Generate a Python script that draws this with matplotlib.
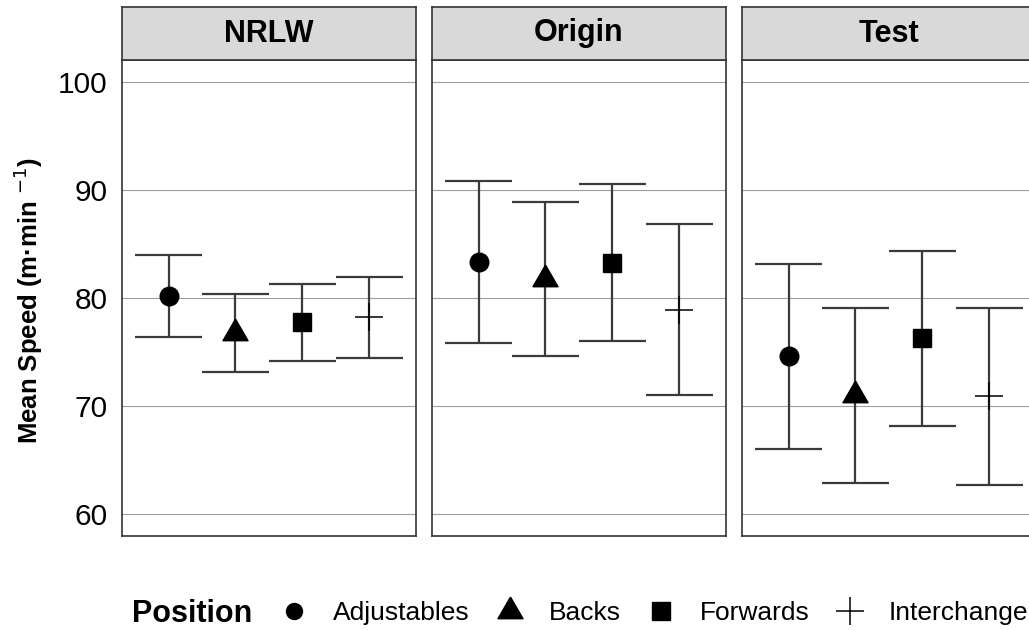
import matplotlib
matplotlib.use("Agg")
import matplotlib.pyplot as plt
from matplotlib.lines import Line2D

plt.rcParams["font.family"] = ["Liberation Sans", "DejaVu Sans"]

# ---- data -------------------------------------------------------------
competitions = ["NRLW", "Origin", "Test"]
positions = ["Adjustables", "Backs", "Forwards", "Interchange"]

nrlw_mean = [80.2, 76.8, 77.8, 78.2]
nrlw_lower = [76.4, 73.2, 74.2, 74.5]
nrlw_upper = [84.0, 80.4, 81.3, 81.9]

origin_mean = [83.3, 81.8, 83.2, 78.9]
origin_lower = [75.8, 74.6, 76.0, 71.0]
origin_upper = [90.8, 88.9, 90.5, 86.8]

test_mean = [74.6, 71.0, 76.3, 70.9]
test_lower = [66.0, 62.9, 68.2, 62.7]
test_upper = [83.1, 79.1, 84.3, 79.1]

y_ticks = [60, 70, 80, 90, 100]

panels = {
    "NRLW": (nrlw_mean, nrlw_lower, nrlw_upper),
    "Origin": (origin_mean, origin_lower, origin_upper),
    "Test": (test_mean, test_lower, test_upper),
}

# ---- styling ------------------------------------------------------------
tri = [(0.0, 1.555), (1.347, -0.778), (-1.347, -0.778), (0.0, 1.555)]
marker_style = {
    "Adjustables": dict(marker="o", markersize=13.4),
    "Backs": dict(marker=tri, markersize=20.8),
    "Forwards": dict(marker="s", markersize=13.4),
    "Interchange": dict(marker="+", markersize=20.0, markeredgewidth=1.1),
}
bar_color = "#3b3b3b"
border_color = "#333333"
grid_color = "#9e9e9e"

W, H = 1029, 630
fig = plt.figure(figsize=(W / 100, H / 100), dpi=100)

panel_left = [121.7, 431.7, 741.7]
panel_w = 294.3
panel_top, panel_bot = 60.0, 536.0
strip_top = 7.0


def fx(px):
    return px / W


def fy(py):
    return 1 - py / H


for k, comp in enumerate(competitions):
    mean, lower, upper = panels[comp]
    x0 = panel_left[k]
    ax = fig.add_axes([fx(x0), fy(panel_bot), panel_w / W, (panel_bot - panel_top) / H])
    ax.set_xlim(0.3, 4.7)
    ax.set_ylim(58, 102)
    ax.set_yticks(y_ticks)
    ax.yaxis.grid(True, color=grid_color, linewidth=0.8)
    ax.set_axisbelow(True)
    ax.set_xticks([])
    if k == 0:
        ax.tick_params(axis="y", length=0, pad=10, labelsize=21.5, labelcolor="black")
    else:
        ax.tick_params(axis="y", length=0, labelleft=False)
    for sp in ax.spines.values():
        sp.set_color(border_color)
        sp.set_linewidth(1.2)

    for i, pos in enumerate(positions):
        x = i + 1
        ax.vlines(x, lower[i], upper[i], color=bar_color, linewidth=1.6, zorder=2)
        ax.hlines([lower[i], upper[i]], x - 0.5, x + 0.5, color=bar_color,
                  linewidth=1.6, zorder=2)
        ax.plot([x], [mean[i]], linestyle="none", color="black", zorder=3,
                **marker_style[pos])

    # facet strip
    sax = fig.add_axes([fx(x0), fy(panel_top), panel_w / W, (panel_top - strip_top) / H])
    sax.set_facecolor("#d9d9d9")
    sax.set_xticks([])
    sax.set_yticks([])
    for sp in sax.spines.values():
        sp.set_color(border_color)
        sp.set_linewidth(1.2)
    sax.text(0.5, 0.5, comp, ha="center", va="center", fontsize=22,
             fontweight="bold", transform=sax.transAxes)

# y-axis title
fig.text(fx(28), fy(300), "Mean Speed (m·min $^{-1}$)", rotation=90,
         ha="center", va="center", fontsize=18.5, fontweight="bold")

# legend
handles = [Line2D([], [], linestyle="none", color="black", **marker_style[p])
           for p in positions]
handles[0].set_markersize(11.5)
fig.text(fx(131.7), fy(614), "Position", ha="left", va="center",
         fontsize=22, fontweight="bold")
fig.legend(handles, positions, ncol=4, loc="center left",
           bbox_to_anchor=(fx(280.8), fy(613)), frameon=False, fontsize=19,
           handlelength=1.0, handletextpad=0.98, columnspacing=1.02,
           borderpad=0, borderaxespad=0)

fig.savefig("out.png", dpi=100)
